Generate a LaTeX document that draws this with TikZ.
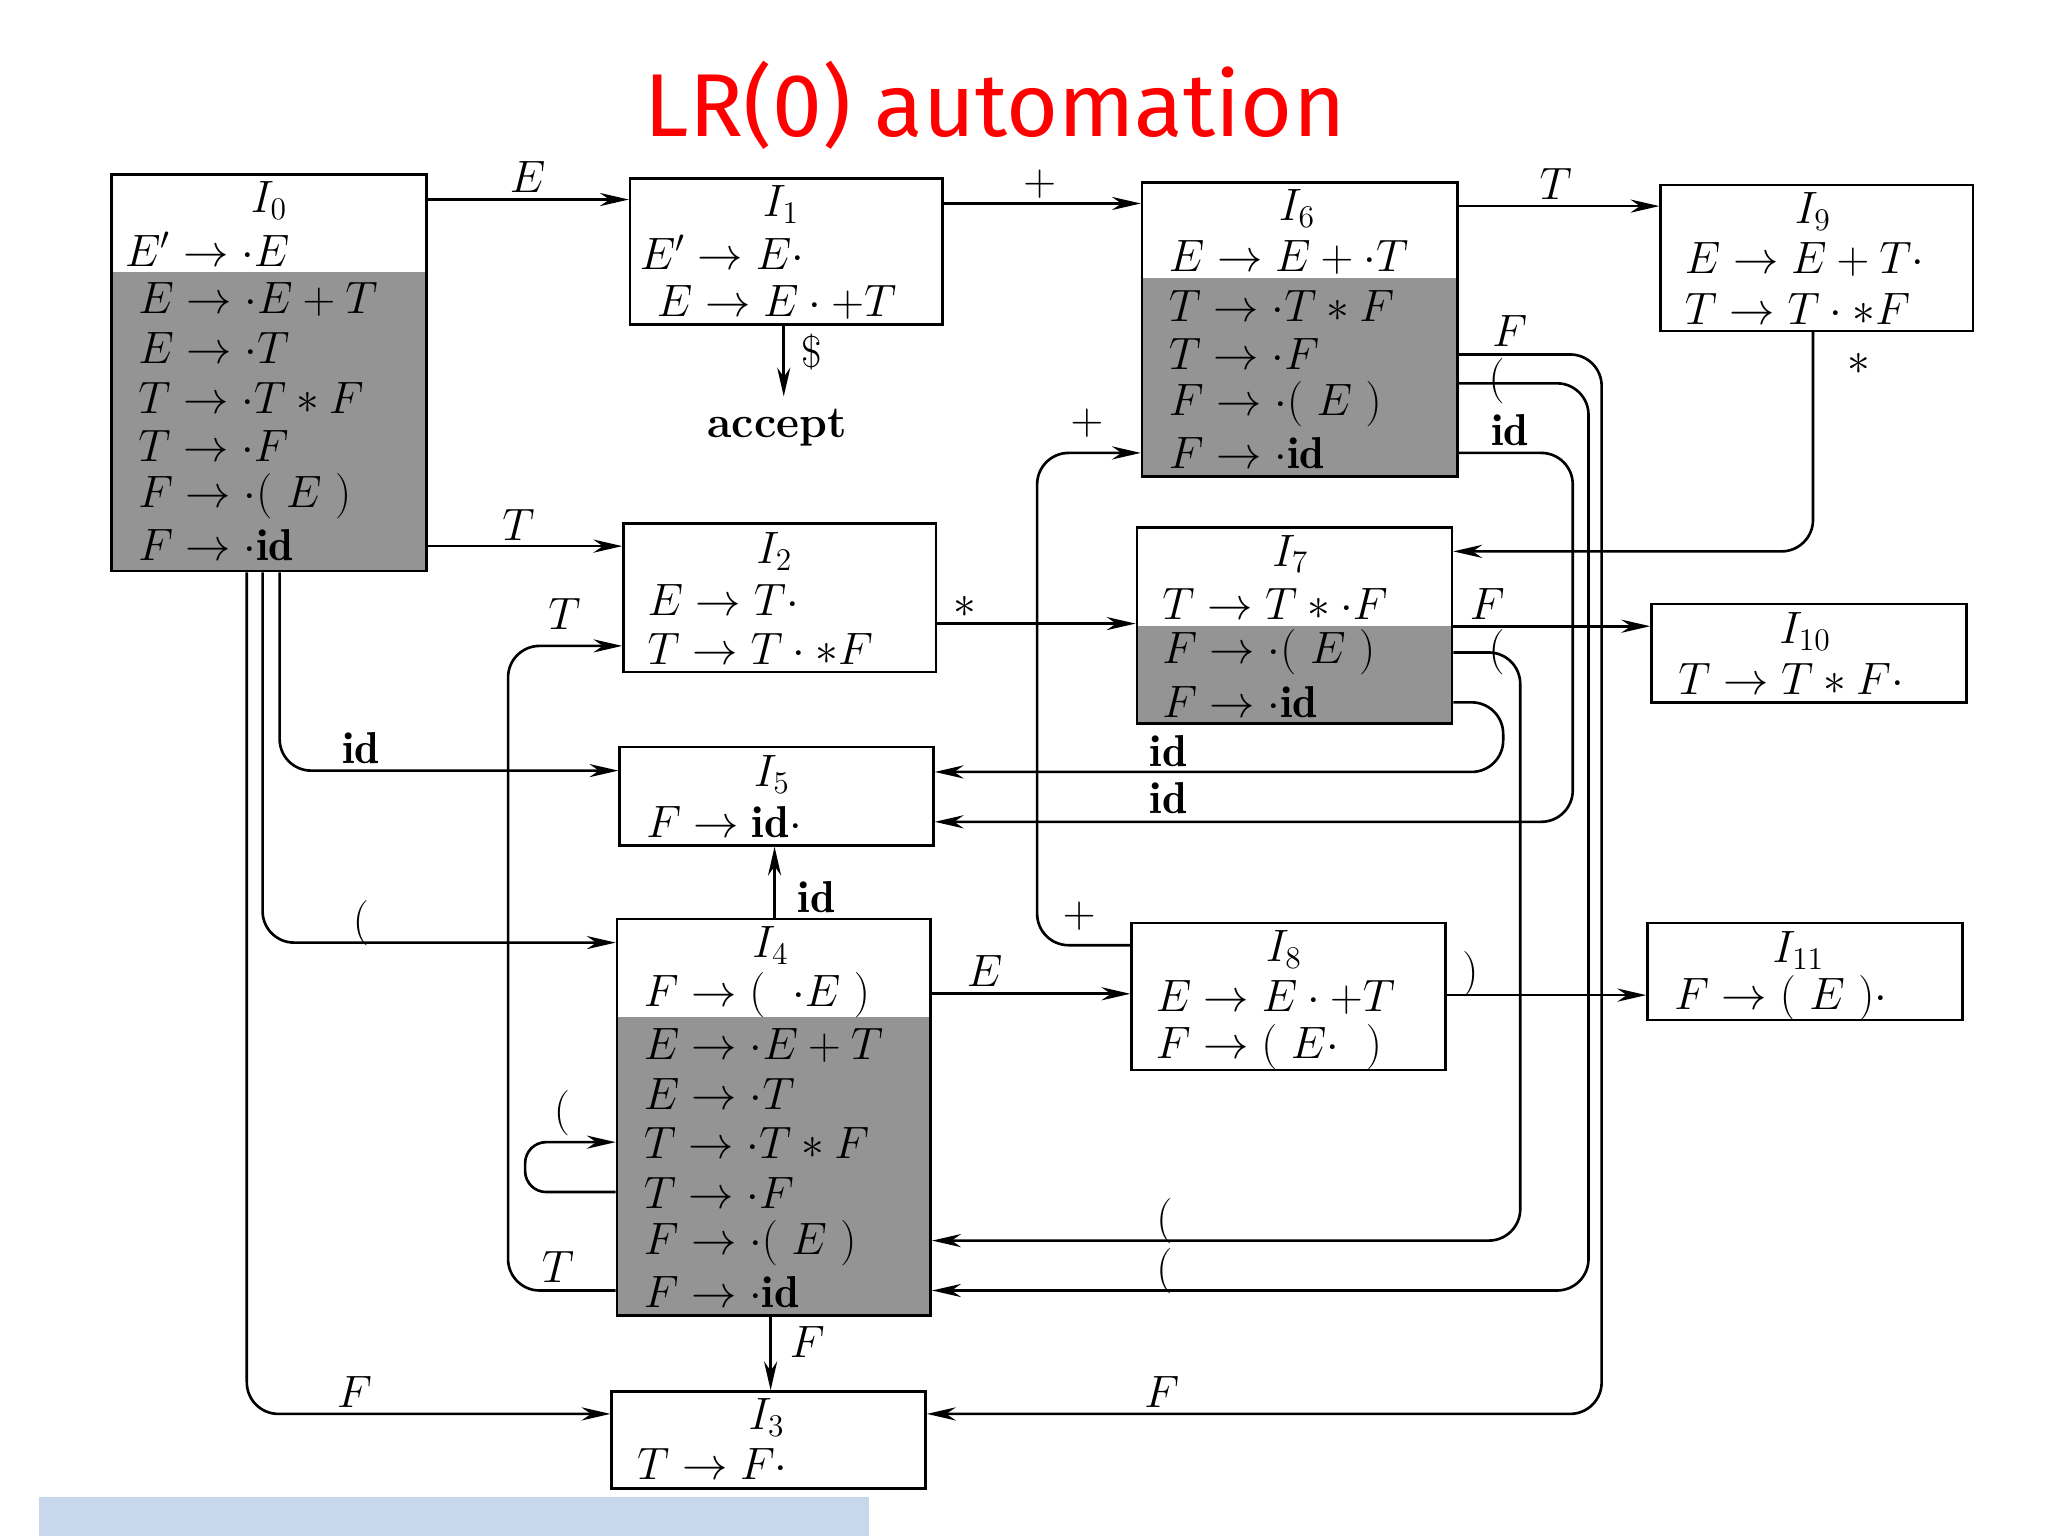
\documentclass[tikz,border=0pt]{standalone}
\usepackage{fontspec}
\usetikzlibrary{arrows.meta,fit}
\newfontfamily\titlefont{Fira Sans}
\definecolor{barblue}{RGB}{200,215,235}
\begin{document}
\begin{tikzpicture}[x=0.5pt,y=-0.5pt,
  every node/.style={font=\fontsize{17}{20}\selectfont},
  box/.style={draw,line width=1pt,inner sep=0pt},
  shade/.style={fill=black!42},
  ln/.style={anchor=west,inner sep=0pt},
  nm/.style={inner sep=0pt},
  lab/.style={inner sep=0pt},
  arr/.style={line width=1pt,rounded corners=12pt,-{Stealth[length=11pt,width=5pt]}}]
\useasboundingbox (0,0) rectangle (1560,1170);
\fill[barblue] (30,1140) rectangle (662,1172);
\node[text=red,font=\titlefont\fontsize{34}{40}\selectfont] (title) at (758,80) {LR(0) automation};
% shading
\fill[shade] (85,207) rectangle (325,435);
\fill[shade] (870,212) rectangle (1110,363);
\fill[shade] (866,477) rectangle (1106,551);
\fill[shade] (470,775) rectangle (709,1002);
% boxes
\node[box,fit={(85,133)(325,435)}] (I0) {};
\node[box,fit={(480,136)(718,247)}] (I1) {};
\node[box,fit={(870,139)(1110,363)}] (I6) {};
\node[box,fit={(1265,141)(1503,252)}] (I9) {};
\node[box,fit={(475,399)(713,512)}] (I2) {};
\node[box,fit={(866,402)(1106,551)}] (I7) {};
\node[box,fit={(1258,460)(1498,535)}] (I10) {};
\node[box,fit={(472,569)(711,644)}] (I5) {};
\node[box,fit={(470,700)(709,1002)}] (I4) {};
\node[box,fit={(862,703)(1101,815)}] (I8) {};
\node[box,fit={(1255,703)(1495,777)}] (I11) {};
\node[box,fit={(466,1060)(705,1134)}] (I3) {};
% contents
\node[nm] at (205,153) {$I_0$};
\node[ln] at (95,190) {$E'\to\cdot E$};
\node[ln] at (105,228) {$E\to\cdot E+T$};
\node[ln] at (105,265) {$E\to\cdot T$};
\node[ln] at (105,303) {$T\to\cdot T*F$};
\node[ln] at (105,340) {$T\to\cdot F$};
\node[ln] at (105,378) {$F\to\cdot(\ E\ )$};
\node[ln] at (105,415) {$F\to\cdot\mathbf{id}$};
\node[nm] at (595,156) {$I_1$};
\node[ln] at (487,192) {$E'\to E\cdot$};
\node[ln] at (500,230) {$E\to E\cdot+T$};
\node[nm] at (988,159) {$I_6$};
\node[ln] at (890,196) {$E\to E+\cdot T$};
\node[ln] at (890,233) {$T\to\cdot T*F$};
\node[ln] at (890,270) {$T\to\cdot F$};
\node[ln] at (890,308) {$F\to\cdot(\ E\ )$};
\node[ln] at (890,345) {$F\to\cdot\mathbf{id}$};
\node[nm] at (1381,161) {$I_9$};
\node[ln] at (1283,198) {$E\to E+T\cdot$};
\node[ln] at (1283,235) {$T\to T\cdot*F$};
\node[nm] at (590,420) {$I_2$};
\node[ln] at (493,457) {$E\to T\cdot$};
\node[ln] at (493,494) {$T\to T\cdot*F$};
\node[nm] at (983,422) {$I_7$};
\node[ln] at (885,460) {$T\to T*\cdot F$};
\node[ln] at (885,497) {$F\to\cdot(\ E\ )$};
\node[ln] at (885,535) {$F\to\cdot\mathbf{id}$};
\node[nm] at (1375,481) {$I_{10}$};
\node[ln] at (1278,517) {$T\to T*F\cdot$};
\node[nm] at (588,590) {$I_5$};
\node[ln] at (492,626) {$F\to\mathbf{id}\cdot$};
\node[nm] at (587,720) {$I_4$};
\node[ln] at (490,758) {$F\to(\ \ \cdot E\ )$};
\node[ln] at (490,796) {$E\to\cdot E+T$};
\node[ln] at (490,833) {$E\to\cdot T$};
\node[ln] at (490,871) {$T\to\cdot T*F$};
\node[ln] at (490,909) {$T\to\cdot F$};
\node[ln] at (490,947) {$F\to\cdot(\ E\ )$};
\node[ln] at (490,984) {$F\to\cdot\mathbf{id}$};
\node[nm] at (978,723) {$I_8$};
\node[ln] at (880,760) {$E\to E\cdot+T$};
\node[ln] at (880,798) {$F\to(\ E\cdot\ \ )$};
\node[nm] at (1370,724) {$I_{11}$};
\node[ln] at (1275,760) {$F\to(\ E\ )\cdot$};
\node[nm] at (584,1080) {$I_3$};
\node[ln] at (485,1115) {$T\to F\cdot$};
\node[inner sep=0pt] (acc) at (592,326) {\textbf{accept}};
% connectors
\draw[arr] (I0.east |- 0,152) -- (I1.west |- 0,152);
\node[lab] at (402,135) {$E$};
\draw[arr] (I1.east |- 0,155) -- (I6.west |- 0,155);
\node[lab] at (792,140) {$+$};
\draw[arr] (I6.east |- 0,157) -- (I9.west |- 0,157);
\node[lab] at (1185,140) {$T$};
\draw[arr] (I1.south -| 597,0) -- (597,302);
\node[lab] at (618,268) {\$};
\draw[arr] (I0.east |- 0,416) -- (I2.west |- 0,416);
\node[lab] at (395,400) {$T$};
\draw[arr] (I2.east |- 0,475) -- (I7.west |- 0,475);
\node[lab] at (735,462) {$*$};
\draw[arr] (I9.south -| 1381,0) -- (1381,420) -- (I7.east |- 0,420);
\node[lab] at (1416,277) {$*$};
\draw[arr] (I7.east |- 0,477) -- (I10.west |- 0,477);
\node[lab] at (1133,460) {$F$};
\draw[arr] (I0.south -| 213,0) -- (213,587) -- (I5.west |- 0,587);
\node[lab] at (275,570) {$\mathbf{id}$};
\draw[arr] (I0.south -| 200,0) -- (200,718) -- (I4.west |- 0,718);
\node[lab] at (275,703) {$($};
\draw[arr] (I0.south -| 188,0) -- (188,1077) -- (I3.west |- 0,1077);
\node[lab] at (270,1060) {$F$};
\draw[arr] (I4.west |- 0,983) -- (387,983) -- (387,492) -- (I2.west |- 0,492);
\node[lab] at (430,468) {$T$};
\node[lab] at (425,965) {$T$};
\draw[arr,rounded corners=8pt] (I4.west |- 0,908) -- (400,908) -- (400,870) -- (I4.west |- 0,870);
\node[lab] at (428,848) {$($};
\draw[arr] (I4.north -| 590,0) -- (I5.south -| 590,0);
\node[lab] at (622,683) {$\mathbf{id}$};
\draw[arr] (I4.south -| 587,0) -- (I3.north -| 587,0);
\node[lab] at (615,1022) {$F$};
\draw[arr] (I4.east |- 0,757) -- (I8.west |- 0,757);
\node[lab] at (750,740) {$E$};
\draw[arr] (I8.east |- 0,758) -- (I11.west |- 0,758);
\node[lab] at (1120,742) {$)$};
\draw[arr] (I8.west |- 0,720) -- (790,720) -- (790,345) -- (I6.west |- 0,345);
\node[lab] at (828,322) {$+$};
\node[lab] at (822,698) {$+$};
\draw[arr] (I6.east |- 0,270) -- (1220,270) -- (1220,1077) -- (I3.east |- 0,1077);
\node[lab] at (1150,252) {$F$};
\node[lab] at (885,1060) {$F$};
\draw[arr] (I6.east |- 0,292) -- (1210,292) -- (1210,983) -- (I4.east |- 0,983);
\node[lab] at (1140,290) {$($};
\node[lab] at (887,968) {$($};
\draw[arr] (I6.east |- 0,345) -- (1198,345) -- (1198,626) -- (I5.east |- 0,626);
\node[lab] at (1150,328) {$\mathbf{id}$};
\node[lab] at (890,608) {$\mathbf{id}$};
\draw[arr] (I7.east |- 0,497) -- (1158,497) -- (1158,945) -- (I4.east |- 0,945);
\node[lab] at (1140,497) {$($};
\node[lab] at (887,930) {$($};
\draw[arr] (I7.east |- 0,535) -- (1145,535) -- (1145,588) -- (I5.east |- 0,588);
\node[lab] at (890,572) {$\mathbf{id}$};
\end{tikzpicture}
\end{document}
